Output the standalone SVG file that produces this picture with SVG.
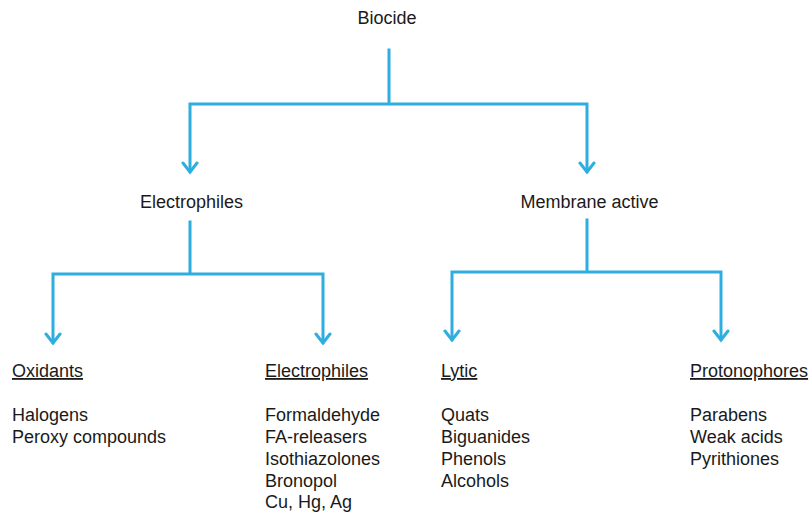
<svg xmlns="http://www.w3.org/2000/svg" width="811" height="516" viewBox="0 0 811 516">
<defs>
<style>
text{font-family:"Liberation Sans",Arial,sans-serif;font-size:18px;fill:#1a1a1a}
.c{text-anchor:middle}
.h{text-decoration:underline}
.ln{fill:none;stroke:#2eaedf;stroke-width:3;stroke-linecap:square;stroke-linejoin:miter}
.ah{fill:none;stroke:#2eaedf;stroke-width:3;stroke-linecap:round;stroke-linejoin:miter}
</style>
</defs>
<rect width="811" height="516" fill="#ffffff"/>
<g id="connectors">
<path class="ln" d="M389 50V104M190 171V104H587V171"/>
<path class="ah" d="M183 163L190 172L197 163M580 163L587 172L594 163"/>
<path class="ln" d="M190 222V274M53 342V274H323V342"/>
<path class="ah" d="M46 334L53 343L60 334M316 334L323 343L330 334"/>
<path class="ln" d="M587 220V272M452 339V272H721V339"/>
<path class="ah" d="M445 331L452 340L459 331M714 331L721 340L728 331"/>
</g>
<g id="biocide"><text class="c" x="387" y="24">Biocide</text></g>
<g id="electrophiles-top"><text class="c" x="191.5" y="208">Electrophiles</text></g>
<g id="membrane-active"><text class="c" x="589.5" y="208">Membrane active</text></g>
<g id="oxidants">
<text class="h" x="12" y="377">Oxidants</text>
<text x="12" y="421">Halogens</text>
<text x="12" y="443">Peroxy compounds</text>
</g>
<g id="electrophiles">
<text class="h" x="265" y="377">Electrophiles</text>
<text x="265" y="421">Formaldehyde</text>
<text x="265" y="443">FA-releasers</text>
<text x="265" y="465">Isothiazolones</text>
<text x="265" y="487">Bronopol</text>
<text x="265" y="508">Cu, Hg, Ag</text>
</g>
<g id="lytic">
<text class="h" x="441" y="377">Lytic</text>
<text x="441" y="421">Quats</text>
<text x="441" y="443">Biguanides</text>
<text x="441" y="465">Phenols</text>
<text x="441" y="487">Alcohols</text>
</g>
<g id="protonophores">
<text class="h" x="690" y="377">Protonophores</text>
<text x="690" y="421">Parabens</text>
<text x="690" y="443">Weak acids</text>
<text x="690" y="465">Pyrithiones</text>
</g>
</svg>
